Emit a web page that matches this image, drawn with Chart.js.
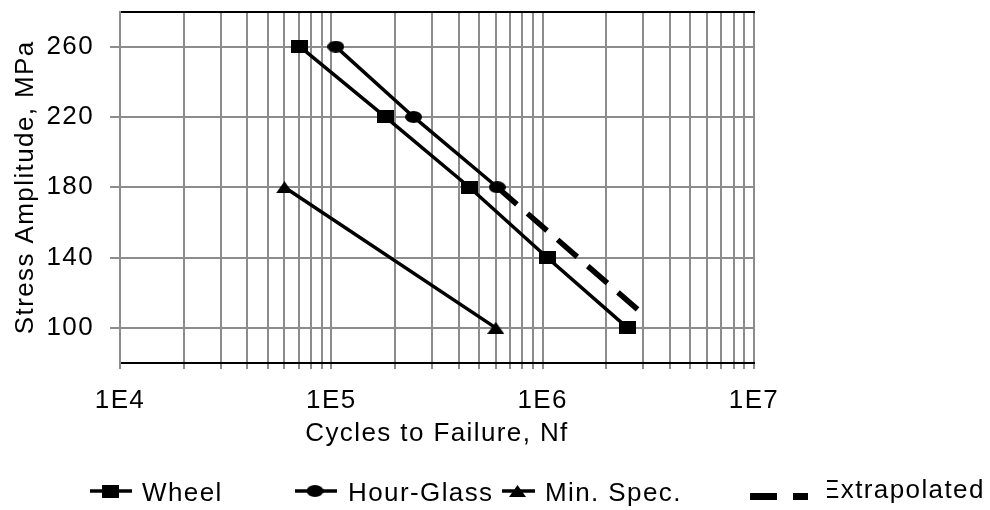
<!DOCTYPE html>
<html>
<head>
<meta charset="utf-8">
<script src="https://cdn.jsdelivr.net/npm/chart.js@4.4.0/dist/chart.umd.min.js"></script>
<style>
  html, body { margin: 0; padding: 0; background: #fff; }
</style>
</head>
<body>
<canvas id="chart" width="990" height="510"></canvas>
<script>
// Values
const seriesNames = ['Wheel', 'Hour-Glass', 'Min. Spec.', 'Extrapolated'];
const wheelCycles = [7.1e4, 1.8e5, 4.5e5, 1.05e6, 2.52e6];
const wheelStress = [260, 220, 180, 140, 100];
const hourGlassCycles = [1.05e5, 2.45e5, 6.1e5];
const hourGlassStress = [260, 220, 180];
const minSpecCycles = [6.0e4, 6.0e5];
const minSpecStress = [180, 100];
const extrapCycles = [6.1e5, 3.13e6];
const extrapStress = [180, 105.6];

const xDecades = [4, 5, 6, 7];
const xTickLabels = ['1E4', '1E5', '1E6', '1E7'];
const yTicks = [100, 140, 180, 220, 260];

const FONT = { family: 'Liberation Sans, Arial, sans-serif', size: 26 };
const LETTER_SPACING = '1.4px'; // source text runs a bit wide
const GRID = '#8c8c8c';

// marker images (the source markers are a bit wider than tall)
function marker(kind, w, h) {
  const c = document.createElement('canvas');
  c.width = w; c.height = h;
  const g = c.getContext('2d');
  g.fillStyle = '#000';
  if (kind === 'square') {
    g.fillRect(0, 0, w, h);
  } else if (kind === 'circle') {
    g.beginPath();
    g.ellipse(w / 2, h / 2, w / 2, h / 2, 0, 0, Math.PI * 2);
    g.fill();
  } else {
    g.beginPath();
    g.moveTo(w / 2, 0);
    g.lineTo(w, h);
    g.lineTo(0, h);
    g.closePath();
    g.fill();
  }
  return c;
}
const squareImg = marker('square', 17, 13);
const circleImg = marker('circle', 17, 12);
const triangleImg = marker('triangle', 17, 12);

const toPoints = (xs, ys) => xs.map((x, i) => ({ x: x, y: ys[i] }));

// minor ticks 1..9 per decade for the grid
const xGridValues = [];
for (let d = xDecades[0]; d < xDecades[xDecades.length - 1]; d++) {
  for (let m = 1; m <= 9; m++) xGridValues.push(m * Math.pow(10, d));
}
xGridValues.push(Math.pow(10, xDecades[xDecades.length - 1]));

function xLabel(v) {
  const i = xDecades.findIndex(d => Math.abs(Math.pow(10, d) - v) < v * 1e-6);
  return i >= 0 ? xTickLabels[i] : '';
}

const spacingPlugin = {
  id: 'letterSpacing',
  beforeUpdate(chart) { chart.ctx.letterSpacing = LETTER_SPACING; },
  beforeDraw(chart) { chart.ctx.letterSpacing = LETTER_SPACING; }
};

// hand placed legend, like the source
const legendPlugin = {
  id: 'sourceLegend',
  afterDraw(chart) {
    const { ctx } = chart;
    const ds = chart.data.datasets;
    ctx.save();
    ctx.fillStyle = '#000';
    ctx.strokeStyle = '#000';
    ctx.font = FONT.size + 'px ' + FONT.family;
    ctx.textBaseline = 'alphabetic';

    const slots = [
      { from: 90, to: 132, text: 142, y: 491, img: squareImg },
      { from: 295, to: 337, text: 348, y: 491, img: circleImg },
      { from: 502, to: 535, text: 545, y: 491, img: triangleImg }
    ];
    slots.forEach((s, i) => {
      ctx.lineWidth = 3.5;
      ctx.beginPath();
      ctx.moveTo(s.from, s.y);
      ctx.lineTo(s.to, s.y);
      ctx.stroke();
      const mx = (s.from + s.to) / 2;
      ctx.drawImage(s.img, mx - s.img.width / 2 - 1, s.y - s.img.height / 2);
      ctx.fillText(ds[i].label, s.text, s.y + 10);
    });

    // dashed entry, its first letter is cut off in the source
    ctx.lineWidth = 7;
    ctx.setLineDash([27, 16]);
    ctx.beginPath();
    ctx.moveTo(750, 496.5);
    ctx.lineTo(808, 496.5);
    ctx.stroke();
    ctx.setLineDash([]);
    ctx.beginPath();
    ctx.rect(827, 460, 163, 50);
    ctx.clip();
    ctx.fillText(ds[3].label, 822, 498);
    ctx.restore();
  }
};

new Chart(document.getElementById('chart'), {
  type: 'scatter',
  data: {
    datasets: [
      {
        label: seriesNames[0],
        data: toPoints(wheelCycles, wheelStress),
        showLine: true,
        borderColor: '#000',
        borderWidth: 3.5,
        pointStyle: squareImg,
        pointRadius: 8
      },
      {
        label: seriesNames[1],
        data: toPoints(hourGlassCycles, hourGlassStress),
        showLine: true,
        borderColor: '#000',
        borderWidth: 3.5,
        pointStyle: circleImg,
        pointRadius: 8
      },
      {
        label: seriesNames[2],
        data: toPoints(minSpecCycles, minSpecStress),
        showLine: true,
        borderColor: '#000',
        borderWidth: 3.5,
        pointStyle: triangleImg,
        pointRadius: 8
      },
      {
        label: seriesNames[3],
        data: toPoints(extrapCycles, extrapStress),
        showLine: true,
        borderColor: '#000',
        borderWidth: 5.5,
        borderDash: [26, 14],
        pointRadius: 0
      }
    ]
  },
  options: {
    responsive: false,
    animation: false,
    devicePixelRatio: 1,
    layout: { padding: { top: 7, right: 236, bottom: 61, left: 0 } },
    plugins: {
      legend: { display: false },
      tooltip: { enabled: false }
    },
    scales: {
      x: {
        type: 'logarithmic',
        position: 'bottom',
        min: 1e4,
        max: 1e7,
        afterBuildTicks: s => { s.ticks = xGridValues.map(v => ({ value: v })); },
        afterFit: s => { s.height = 86; s.paddingLeft = 0; s.paddingRight = 0; },
        ticks: {
          autoSkip: false,
          maxRotation: 0,
          padding: 16,
          color: '#000',
          font: FONT,
          callback: v => xLabel(v)
        },
        grid: { color: GRID, lineWidth: 2, tickLength: 6, tickColor: GRID },
        border: { color: '#000', width: 2 },
        title: { display: true, text: 'Cycles to Failure, Nf', color: '#000', font: FONT, padding: 0 }
      },
      xTop: {
        type: 'linear',
        position: 'top',
        min: 0,
        max: 1,
        afterFit: s => { s.height = 0; s.paddingLeft = 0; s.paddingRight = 0; },
        ticks: { display: false },
        grid: { display: false, drawTicks: false },
        border: { color: '#000', width: 2 }
      },
      y: {
        type: 'linear',
        min: 80,
        max: 280,
        afterBuildTicks: s => { s.ticks = yTicks.map(v => ({ value: v })); },
        afterFit: s => { s.width = 120; s.paddingTop = 0; s.paddingBottom = 0; },
        ticks: { padding: 16, color: '#000', font: FONT },
        grid: { color: GRID, lineWidth: 2, tickLength: 10, tickColor: GRID },
        border: { color: GRID, width: 2 },
        title: { display: true, text: 'Stress Amplitude, MPa', color: '#000', font: FONT, padding: { top: 10, bottom: 0 } }
      }
    }
  },
  plugins: [spacingPlugin, legendPlugin]
});
</script>
</body>
</html>
